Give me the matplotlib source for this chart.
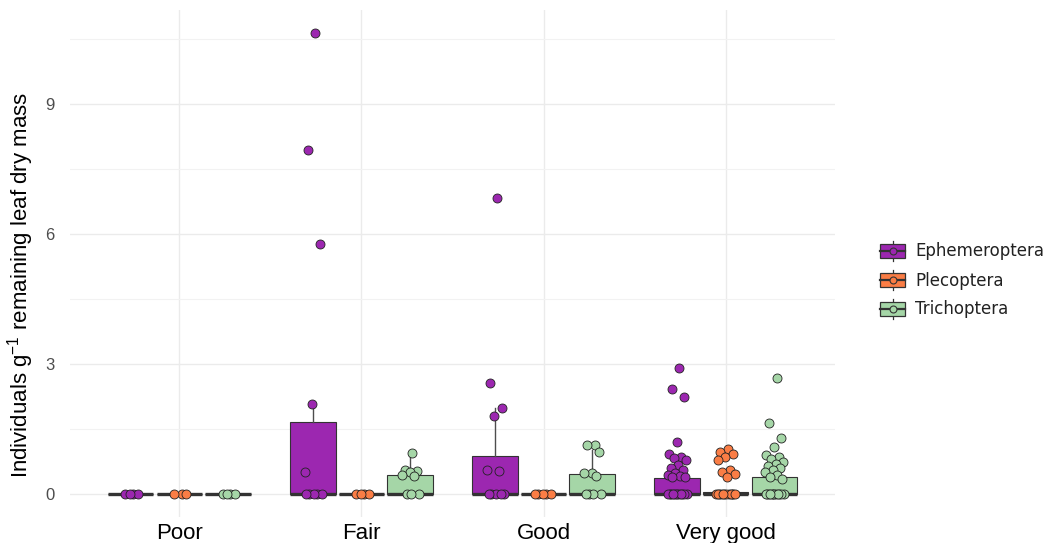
import matplotlib
matplotlib.use("Agg")
import matplotlib.pyplot as plt
import numpy as np
from matplotlib.patches import Patch, Rectangle
from matplotlib.lines import Line2D
from matplotlib.legend_handler import HandlerBase

plt.rcParams['font.family'] = ['Liberation Sans', 'DejaVu Sans']
plt.rcParams['mathtext.fontset'] = 'custom'
plt.rcParams['mathtext.rm'] = 'Liberation Sans'

## Data
groups = ["Poor", "Fair", "Good", "Very good"]
taxa = ["Ephemeroptera", "Plecoptera", "Trichoptera"]
colors = ['#9C27B0', '#FA7D45', '#A5D6A7']

# mean per group (bar) and top of the error line
eph_mean = [0.0, 1.67, 0.88, 0.38]
plec_mean = [0.0, 0.0, 0.0, 0.05]
trich_mean = [0.0, 0.45, 0.46, 0.40]
eph_upper = [0.0, 2.08, 1.98, 0.67]
plec_upper = [0.0, 0.0, 0.0, 0.08]
trich_upper = [0.0, 0.98, 1.02, 0.55]

# individual samples
eph_pts = [
    [0, 0, 0, 0],
    [10.64, 7.94, 5.77, 2.08, 0.51, 0, 0, 0, 0, 0],
    [6.83, 2.56, 1.98, 1.80, 0.55, 0.52, 0, 0, 0, 0, 0],
    [2.91, 2.42, 2.24, 1.20, 0.92, 0.85, 0.82, 0.78, 0.68, 0.60, 0.55,
     0.48, 0.45, 0.42, 0.40, 0.40, 0, 0, 0, 0, 0, 0, 0, 0, 0, 0, 0, 0],
]
plec_pts = [
    [0, 0, 0],
    [0, 0, 0, 0],
    [0, 0, 0, 0, 0],
    [1.03, 0.98, 0.92, 0.85, 0.78, 0.55, 0.51, 0.47, 0.40,
     0, 0, 0, 0, 0, 0, 0, 0, 0, 0, 0, 0],
]
trich_pts = [
    [0, 0, 0, 0],
    [0.95, 0.55, 0.52, 0.50, 0.45, 0.42, 0, 0, 0],
    [1.13, 1.13, 0.98, 0.49, 0.48, 0.42, 0, 0, 0, 0],
    [2.68, 1.65, 1.29, 1.09, 0.90, 0.85, 0.80, 0.75, 0.70, 0.65, 0.60,
     0.55, 0.50, 0.45, 0.40, 0.35, 0, 0, 0, 0, 0, 0, 0, 0, 0, 0, 0, 0],
]

means = [eph_mean, plec_mean, trich_mean]
uppers = [eph_upper, plec_upper, trich_upper]
points = [eph_pts, plec_pts, trich_pts]


class BoxKey(HandlerBase):
    # boxplot-style legend key with a point in the middle
    def create_artists(self, legend, orig_handle, xdescent, ydescent,
                       width, height, fontsize, trans):
        fc = orig_handle.get_facecolor()
        cx = width / 2 - xdescent
        cy = height / 2 - ydescent
        bh = height * 0.7
        box = Rectangle((-xdescent, cy - bh / 2), width, bh, facecolor=fc,
                        edgecolor='#333333', lw=0.9, transform=trans)
        vl = Line2D([cx, cx], [-ydescent, height - ydescent], color='#333333',
                    lw=0.9, transform=trans)
        hl = Line2D([-xdescent, width - xdescent], [cy, cy], color='#333333',
                    lw=1.6, transform=trans)
        dot = Line2D([cx], [cy], marker='o', ms=5, mfc=fc, mec='#333333',
                     mew=0.8, ls='none', transform=trans)
        return [vl, box, hl, dot]


fig = plt.figure(figsize=(10.51, 5.43), dpi=100)
ax = fig.add_axes([70 / 1051, 1 - 517 / 543, 765 / 1051, 507.5 / 543])

x = np.arange(1, len(groups) + 1)
offsets = [-0.267, 0.0, 0.267]
bw = 0.25

for k in range(3):
    xs = x + offsets[k]
    ax.bar(xs, means[k], width=bw, color=colors[k], edgecolor='#333333',
           linewidth=0.8, zorder=2)
    for i in range(len(groups)):
        # error line from the mean upwards
        if uppers[k][i] > means[k][i]:
            ax.plot([xs[i], xs[i]], [means[k][i], uppers[k][i]],
                    color='#4d4d4d', lw=1.0, zorder=3)
        # median line of the boxplot, all sits at zero
        ax.plot([xs[i] - bw / 2, xs[i] + bw / 2], [0, 0], color='#333333',
                lw=2.4, solid_capstyle='butt', zorder=4)
        vals = np.array(points[k][i])
        idx = np.arange(len(vals))
        jit = (((idx + 1) * 0.618034) % 1 - 0.5) * 0.11
        ax.scatter(xs[i] + jit, vals, s=42, color=colors[k],
                   edgecolor='#222222', linewidth=0.6, zorder=5)

ax.set_xlim(0.4, 4.6)
ax.set_ylim(-0.53, 11.18)
ax.set_xticks(x)
ax.set_xticklabels(groups, fontsize=16, color='black')
ax.set_yticks([0, 3, 6, 9])
ax.set_yticks([1.5, 4.5, 7.5, 10.5], minor=True)
ax.tick_params(axis='y', labelsize=12, labelcolor='#4D4D4D', length=0, pad=11)
ax.tick_params(axis='x', length=0, pad=4)
ax.tick_params(which='minor', length=0)
ax.grid(which='major', color='#EBEBEB', lw=1.0, zorder=0)
ax.grid(which='minor', axis='y', color='#F2F2F2', lw=0.8, zorder=0)
ax.set_axisbelow(True)
for s in ax.spines.values():
    s.set_visible(False)

ax.set_ylabel(r"Individuals g$^{-1}$ remaining leaf dry mass", fontsize=16)
ax.yaxis.set_label_coords(-0.045, 0.457)

handles = [Patch(facecolor=c) for c in colors]
fig.legend(handles, taxa, handler_map={Patch: BoxKey()}, loc='center left',
           bbox_to_anchor=(865 / 1051, 1 - 280 / 543), frameon=False,
           prop={'family': 'DejaVu Sans', 'size': 12},
           handlelength=1.5, handleheight=1.5, labelspacing=0.52,
           handletextpad=0.6, labelcolor='#222222')

fig.savefig("out.png", dpi=100)
